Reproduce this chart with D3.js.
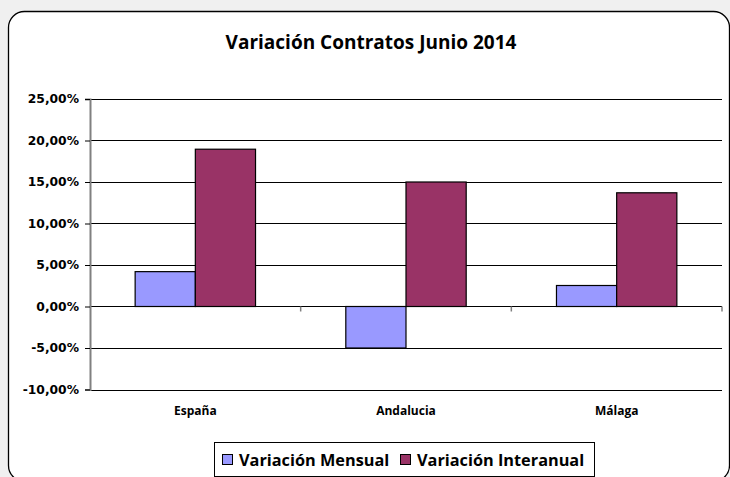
<!DOCTYPE html>
<html>
<head>
<meta charset="utf-8">
<script src="https://cdn.jsdelivr.net/npm/d3@7"></script>
<style>
  body { margin: 0; background: #f0f0f0; }
  text { font-family: "Open Sans", "DejaVu Sans", sans-serif; font-weight: bold; fill: #000; }
</style>
</head>
<body>
<div id="graphic"></div>
<script>
const width = 730;
const height = 477;

// data
const categories = ['España', 'Andalucia', 'Málaga'];
const seriesNames = ['Variación Mensual', 'Variación Interanual'];
const mensual = [0.042, -0.050, 0.0253];
const interanual = [0.1895, 0.150, 0.137];
const yTicks = [-0.10, -0.05, 0, 0.05, 0.10, 0.15, 0.20, 0.25];
const colors = ['#9999ff', '#993366'];

const svg = d3.select('#graphic')
    .append('svg')
    .attr('width', width)
    .attr('height', height);

// chart area frame
svg.append('rect')
    .attr('x', 8.5)
    .attr('y', 11.5)
    .attr('width', 721)
    .attr('height', 470)
    .attr('rx', 16)
    .attr('fill', '#fff')
    .attr('stroke', '#000')
    .attr('stroke-width', 1.3);

svg.append('text')
    .attr('x', 371)
    .attr('y', 49)
    .attr('text-anchor', 'middle')
    .style('font-size', '19px')
    .text('Variación Contratos Junio 2014');

const plotLeft = 90, plotRight = 722;

const scaleY = d3.scaleLinear()
    .domain([-0.10, 0.25])
    .range([389.5, 99]);

const scaleX = d3.scaleBand()
    .domain(categories)
    .range([plotLeft, plotRight])
    .paddingInner(0)
    .paddingOuter(0);

const scaleSeries = d3.scaleBand()
    .domain([0, 1])
    .range([0, scaleX.bandwidth()])
    .paddingOuter(0.75)
    .paddingInner(0);

// gridlines
svg.append('g')
    .selectAll('line')
    .data(yTicks)
    .enter()
    .append('line')
    .attr('x1', plotLeft)
    .attr('x2', plotRight)
    .attr('y1', d => Math.round(scaleY(d)) + 0.5)
    .attr('y2', d => Math.round(scaleY(d)) + 0.5)
    .attr('stroke', '#000')
    .attr('stroke-width', 1);

// bars
const rows = categories.map((c, i) => ({cat: c, vals: [mensual[i], interanual[i]]}));

const groups = svg.selectAll('g.cat')
    .data(rows)
    .enter()
    .append('g')
    .attr('class', 'cat')
    .attr('transform', d => `translate(${scaleX(d.cat)},0)`);

groups.selectAll('rect')
    .data(d => d.vals)
    .enter()
    .append('rect')
    .attr('x', (d, i) => scaleSeries(i))
    .attr('y', d => scaleY(Math.max(0, d)))
    .attr('width', scaleSeries.bandwidth())
    .attr('height', d => Math.abs(scaleY(d) - scaleY(0)))
    .attr('fill', (d, i) => colors[i])
    .attr('stroke', '#000')
    .attr('stroke-width', 1.2);

// y axis
const axisY = d3.axisLeft(scaleY)
    .tickValues(yTicks)
    .tickSize(5)
    .tickPadding(6)
    .tickFormat(d => (d < 0 ? '-' : '') + Math.abs(d * 100).toFixed(2).replace('.', ',') + '%');

const yAxisG = svg.append('g')
    .attr('transform', `translate(${plotLeft},0)`)
    .call(axisY);
yAxisG.select('.domain').attr('stroke', '#808080').attr('stroke-width', 2);
yAxisG.selectAll('.tick line').attr('stroke', '#000');
yAxisG.selectAll('text')
    .style('font-family', '"DejaVu Sans", sans-serif')
    .style('font-size', '12.3px')
    .style('font-weight', 'bold');

// x axis on zero line, ticks between categories
const zeroY = Math.round(scaleY(0)) + 0.5;
svg.append('g')
    .selectAll('line')
    .data(categories.map((c, i) => i + 1))
    .enter()
    .append('line')
    .attr('x1', i => plotLeft + i * scaleX.bandwidth())
    .attr('x2', i => plotLeft + i * scaleX.bandwidth())
    .attr('y1', zeroY)
    .attr('y2', zeroY + 5)
    .attr('stroke', '#808080')
    .attr('stroke-width', 1.5);

svg.append('g')
    .selectAll('text')
    .data(categories)
    .enter()
    .append('text')
    .attr('x', d => scaleX(d) + scaleX.bandwidth() / 2)
    .attr('y', 415)
    .attr('text-anchor', 'middle')
    .style('font-size', '12px')
    .text(d => d);

// legend
const legend = svg.append('g');
legend.append('rect')
    .attr('x', 214.5)
    .attr('y', 442.5)
    .attr('width', 380)
    .attr('height', 34)
    .attr('fill', '#fff')
    .attr('stroke', '#000')
    .attr('stroke-width', 1);

const legendX = [222, 400];
seriesNames.forEach((name, i) => {
    legend.append('rect')
        .attr('x', legendX[i] + 0.5)
        .attr('y', 454.5)
        .attr('width', 10)
        .attr('height', 10)
        .attr('fill', colors[i])
        .attr('stroke', '#000')
        .attr('stroke-width', 1);
    legend.append('text')
        .attr('x', legendX[i] + 17)
        .attr('y', 465.5)
        .style('font-size', '16.3px')
        .text(name);
});
</script>
</body>
</html>
